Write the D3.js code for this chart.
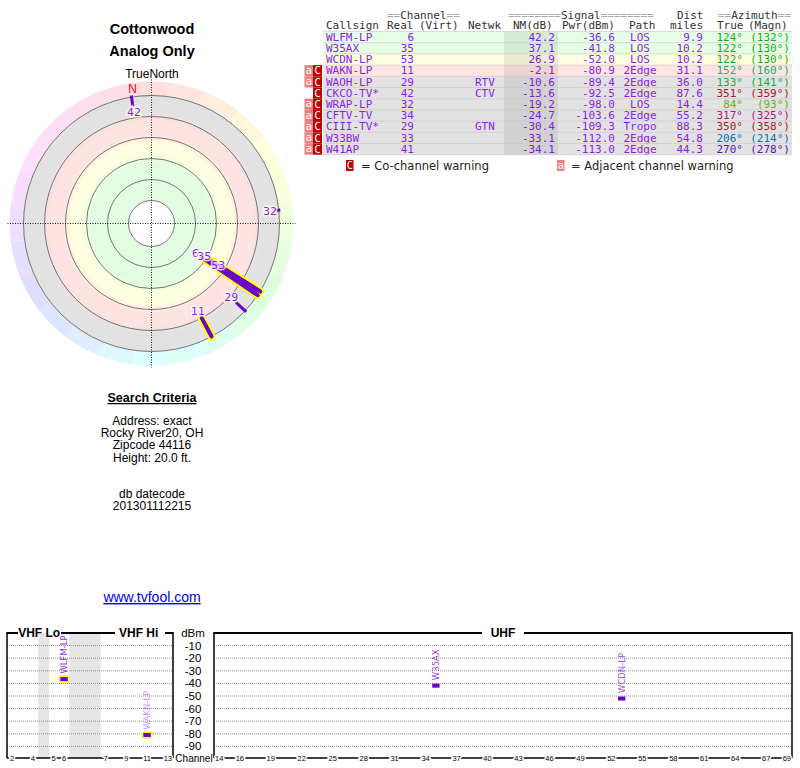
<!DOCTYPE html>
<html>
<head>
<meta charset="utf-8">
<script src="https://cdn.jsdelivr.net/npm/d3@7"></script>
<style>
  body { margin: 0; background: #fff; }
  svg { display: block; }
</style>
</head>
<body>
<script>
// station table, one entry per row
const callsigns = ["WLFM-LP", "W35AX", "WCDN-LP", "WAKN-LP", "WAOH-LP", "CKCO-TV*", "WRAP-LP", "CFTV-TV", "CIII-TV*", "W33BW", "W41AP"];
const realChannels = [6, 35, 53, 11, 29, 42, 32, 34, 29, 33, 41];
const networks = ["", "", "", "", "RTV", "CTV", "", "", "GTN", "", ""];
const nmDb = [42.2, 37.1, 26.9, -2.1, -10.6, -13.6, -19.2, -24.7, -30.4, -33.1, -34.1];
const pwrDbm = [-36.6, -41.8, -52.0, -80.9, -89.4, -92.5, -98.0, -103.6, -109.3, -112.0, -113.0];
const paths = ["LOS", "LOS", "LOS", "2Edge", "2Edge", "2Edge", "LOS", "2Edge", "Tropo", "2Edge", "2Edge"];
const distMiles = [9.9, 10.2, 10.2, 31.1, 36.0, 87.6, 14.4, 55.2, 88.3, 54.8, 44.3];
const azTrue = [124, 122, 122, 152, 133, 351, 84, 317, 350, 206, 270];
const azMagn = [132, 130, 130, 160, 141, 359, 93, 325, 358, 214, 278];
const coChannel = [false, false, false, true, true, true, true, true, true, true, true];
const adjChannel = [false, false, false, true, true, false, true, true, true, true, true];

// NM thresholds for the zones (green, yellow, red, gray below)
const zoneMin = [35, 20, -5];

// spectrum chart
const vhfSlots = ["2", "3", "4", "gap", "5", "6", "fm1", "fm2", "fm3", "7", "8", "9", "10", "11", "12", "13"];
const vhfTickLabels = ["2", "4", "5", "6", "7", "9", "11", "13"];
const uhfChannels = d3.range(14, 70);
const uhfTickLabels = [14, 16, 19, 22, 25, 28, 31, 34, 37, 40, 43, 46, 49, 52, 55, 58, 61, 64, 67, 69];
const dbmTicks = [-10, -20, -30, -40, -50, -60, -70, -80, -90];

const criteria = ["Address: exact", "Rocky River20, OH", "Zipcode 44116", "Height: 20.0 ft."];
const datecode = "201301112215";

const stations = callsigns.map((c, i) => ({
    callsign: c, real: realChannels[i], netwk: networks[i], nm: nmDb[i], pwr: pwrDbm[i],
    path: paths[i], dist: distMiles[i], az: azTrue[i], magn: azMagn[i],
    co: coChannel[i], adj: adjChannel[i]
}));

function zoneOf(nm) {
    const z = zoneMin.findIndex(m => nm >= m);
    return z < 0 ? 3 : z;
}

const sans = "'Liberation Sans', Arial, sans-serif";
const deja = "'DejaVu Sans', Verdana, sans-serif";
const mono = "'DejaVu Sans Mono', monospace";
const purple = "#8a1ee6";
const barPurple = "#6a00cc";

const svg = d3.select("body").append("svg")
    .attr("width", 800)
    .attr("height", 768);

// ---------- titles ----------
svg.append("text").attr("x", 152).attr("y", 34).attr("text-anchor", "middle")
    .attr("font-family", sans).attr("font-size", 14.5).attr("font-weight", "bold").text("Cottonwood");
svg.append("text").attr("x", 152).attr("y", 56).attr("text-anchor", "middle")
    .attr("font-family", sans).attr("font-size", 14.5).attr("font-weight", "bold").text("Analog Only");
svg.append("text").attr("x", 152).attr("y", 78).attr("text-anchor", "middle")
    .attr("font-family", sans).attr("font-size", 12).text("TrueNorth");

// ---------- polar plot ----------
const cx = 151.5, cy = 223.5;
const r = d3.scaleLinear().domain([64, 40, 28, -2, -20]).range([23, 65, 86, 107, 128]).clamp(true);
const rOuter = r(-20);
const polar = svg.append("g");

const defs = svg.append("defs");
const grad = defs.append("radialGradient").attr("id", "zones")
    .attr("gradientUnits", "userSpaceOnUse")
    .attr("cx", cx).attr("cy", cy).attr("r", rOuter);
[[0, "#e2fce2"], [0.47, "#e2fce2"], [0.55, "#fdfee0"], [0.63, "#fdfee0"], [0.70, "#ffe2e2"],
 [0.80, "#ffe2e2"], [0.87, "#e2e2e2"], [1, "#e2e2e2"]].forEach(s => {
    grad.append("stop").attr("offset", s[0]).attr("stop-color", s[1]);
});

// hue wheel round the edge
const hueArc = d3.arc().innerRadius(rOuter).outerRadius(142);
polar.selectAll(".hue")
    .data(d3.range(0, 360, 15))
    .enter()
    .append("path")
    .attr("transform", `translate(${cx},${cy})`)
    .attr("d", d => hueArc({ startAngle: (d - 7.5) * Math.PI / 180, endAngle: (d + 7.5) * Math.PI / 180 }))
    .attr("fill", d => d3.hsl(d, 1, 0.935));

polar.append("circle").attr("cx", cx).attr("cy", cy).attr("r", rOuter).attr("fill", "url(#zones)");
polar.append("circle").attr("cx", cx).attr("cy", cy).attr("r", 23).attr("fill", "#fff");

polar.selectAll(".ring")
    .data(d3.range(6).map(i => 23 + 21 * i))
    .enter()
    .append("circle")
    .attr("cx", cx).attr("cy", cy).attr("r", d => d)
    .attr("fill", "none").attr("stroke", "#555").attr("stroke-width", 0.8);

polar.append("line").attr("x1", cx).attr("x2", cx).attr("y1", cy - 144).attr("y2", cy + 144)
    .attr("stroke", "#000").attr("stroke-dasharray", "1,1.5").attr("stroke-width", 0.9);
polar.append("line").attr("x1", cx - 144).attr("x2", cx + 144).attr("y1", cy).attr("y2", cy)
    .attr("stroke", "#000").attr("stroke-dasharray", "1,1.5").attr("stroke-width", 0.9);

const pt = (az, rad) => [cx + rad * Math.sin(az * Math.PI / 180), cy - rad * Math.cos(az * Math.PI / 180)];

const shown = stations.filter(d => d.nm >= r.domain()[4]);
const strong = d => zoneOf(d.nm) < 3;

// yellow outlines under the strong ones
polar.selectAll(".halo")
    .data(shown.filter(strong))
    .enter()
    .append("line")
    .attr("x1", d => pt(d.az, r(d.nm))[0]).attr("y1", d => pt(d.az, r(d.nm))[1])
    .attr("x2", d => pt(d.az, rOuter)[0]).attr("y2", d => pt(d.az, rOuter)[1])
    .attr("stroke", "#ffff00").attr("stroke-width", 8).attr("stroke-linecap", "round");

polar.selectAll(".bar")
    .data(shown)
    .enter()
    .append("line")
    .attr("x1", d => pt(d.az, r(d.nm))[0]).attr("y1", d => pt(d.az, r(d.nm))[1])
    .attr("x2", d => pt(d.az, rOuter)[0]).attr("y2", d => pt(d.az, rOuter)[1])
    .attr("stroke", barPurple)
    .attr("stroke-width", d => strong(d) ? 4 : 3)
    .attr("stroke-linecap", d => strong(d) ? "round" : "square");

polar.selectAll(".plabel")
    .data(shown)
    .enter()
    .append("text")
    .attr("x", d => pt(d.az, r(d.nm) - 8)[0])
    .attr("y", d => pt(d.az, r(d.nm) - 8)[1])
    .attr("text-anchor", "middle").attr("dominant-baseline", "central")
    .attr("font-family", deja).attr("font-size", 11)
    .attr("fill", purple)
    .attr("stroke", "#fff").attr("stroke-width", 3).attr("stroke-opacity", 0.75)
    .attr("paint-order", "stroke")
    .text(d => d.real);

// magnetic north marker
const decl = azMagn[0] - azTrue[0];
const nPos = pt(360 - decl, 136);
polar.append("text").attr("x", nPos[0]).attr("y", nPos[1])
    .attr("text-anchor", "middle").attr("dominant-baseline", "central")
    .attr("font-family", sans).attr("font-size", 12).attr("fill", "#ff0000").text("N");

// ---------- search criteria ----------
svg.append("text").attr("x", 152).attr("y", 402).attr("text-anchor", "middle")
    .attr("font-family", sans).attr("font-size", 12.5).attr("font-weight", "bold")
    .attr("text-decoration", "underline").text("Search Criteria");
svg.selectAll(".crit")
    .data(criteria)
    .enter()
    .append("text")
    .attr("x", 152).attr("y", (d, i) => 425 + i * 12.2)
    .attr("text-anchor", "middle").attr("font-family", sans).attr("font-size", 12)
    .text(d => d);
svg.append("text").attr("x", 152).attr("y", 498).attr("text-anchor", "middle")
    .attr("font-family", sans).attr("font-size", 12).text("db datecode");
svg.append("text").attr("x", 152).attr("y", 510).attr("text-anchor", "middle")
    .attr("font-family", sans).attr("font-size", 12).text(datecode);
svg.append("text").attr("x", 152).attr("y", 602).attr("text-anchor", "middle")
    .attr("font-family", sans).attr("font-size", 14).attr("fill", "#0000ee")
    .attr("text-decoration", "underline").text("www.tvfool.com");

// ---------- station table ----------
const table = svg.append("g").attr("font-family", mono).attr("font-size", 11);
const rowTop = 31.5, rowH = 11.2, tLeft = 323, tRight = 792;
const rowFill = ["#e6fde6", "#fdfee0", "#ffe4e4", "#e2e2e2"];

const head1 = [
    { x: 387, parts: [["==", "#aaa"], ["Channel", "#333"], ["==", "#aaa"]] },
    { x: 508, parts: [["========", "#aaa"], ["Signal", "#333"], ["========", "#aaa"]] },
    { x: 677, parts: [["Dist", "#333"]] },
    { x: 718, parts: [["==", "#aaa"], ["Azimuth", "#333"], ["==", "#aaa"]] }
];
head1.forEach(h => {
    const t = table.append("text").attr("x", h.x).attr("y", 18.5);
    h.parts.forEach(p => t.append("tspan").attr("fill", p[1]).text(p[0]));
});
[["Callsign", 326], ["Real", 387], ["(Virt)", 419], ["Netwk", 468], ["NM(dB)", 513],
 ["Pwr(dBm)", 562], ["Path", 629], ["miles", 670], ["True", 717], ["(Magn)", 748]].forEach(h => {
    table.append("text").attr("x", h[1]).attr("y", 29.3).attr("fill", "#333").text(h[0]);
});

const rows = table.selectAll(".row")
    .data(stations)
    .enter()
    .append("g")
    .attr("transform", (d, i) => `translate(0,${rowTop + i * rowH})`);

rows.append("rect").attr("x", tLeft).attr("width", tRight - tLeft).attr("height", rowH)
    .attr("fill", d => rowFill[zoneOf(d.nm)]);
table.append("rect").attr("x", 504).attr("y", rowTop).attr("width", 54).attr("height", rowH * stations.length)
    .attr("fill", "#000").attr("opacity", 0.07);
table.selectAll(".sep")
    .data(d3.range(stations.length + 1))
    .enter()
    .append("line")
    .attr("x1", tLeft).attr("x2", tRight)
    .attr("y1", i => rowTop + i * rowH).attr("y2", i => rowTop + i * rowH)
    .attr("stroke", "#c4c4c4").attr("stroke-width", 0.6);

const rowText = (sel, xPos, anchor, fn, color) => sel.append("text")
    .attr("x", xPos).attr("y", 9.2).attr("text-anchor", anchor)
    .attr("fill", color || purple).text(fn);

rowText(rows, 326, "start", d => d.callsign);
rowText(rows, 414, "end", d => d.real);
rowText(rows, 475, "start", d => d.netwk);
rowText(rows, 555, "end", d => d.nm.toFixed(1));
rowText(rows, 615, "end", d => d.pwr.toFixed(1));
rowText(rows, 640, "middle", d => d.path);
rowText(rows, 703, "end", d => d.dist.toFixed(1));
rows.append("text").attr("x", 743).attr("y", 9.2).attr("text-anchor", "end")
    .attr("fill", d => d3.hsl(d.az, 0.8, 0.38)).text(d => d.az + "\u00b0");
rows.append("text").attr("x", 790).attr("y", 9.2).attr("text-anchor", "end")
    .attr("fill", d => d3.hsl(d.az, 0.8, 0.38)).text(d => "(" + d.magn + "\u00b0)");

// warning flags
const adjRows = rows.filter(d => d.adj);
adjRows.append("rect").attr("x", 304.5).attr("width", 8.5).attr("height", rowH).attr("fill", "#f08080");
adjRows.append("text").attr("x", 308.7).attr("y", 8.6).attr("text-anchor", "middle").attr("fill", "#fff").text("a");
const coRows = rows.filter(d => d.co);
coRows.append("rect").attr("x", 313).attr("width", 9).attr("height", rowH).attr("fill", "#c00000");
coRows.append("text").attr("x", 317.5).attr("y", 9.2).attr("text-anchor", "middle").attr("fill", "#fff").text("C");

// legend
const legend = svg.append("g").attr("font-family", deja).attr("font-size", 11.5);
legend.append("rect").attr("x", 346).attr("y", 160).attr("width", 7.5).attr("height", 11).attr("fill", "#c00000");
legend.append("text").attr("x", 349.7).attr("y", 169).attr("text-anchor", "middle").attr("fill", "#fff")
    .attr("font-family", mono).attr("font-size", 10).text("C");
legend.append("text").attr("x", 361).attr("y", 170).attr("fill", "#222").text("= Co-channel warning");
legend.append("rect").attr("x", 557).attr("y", 160).attr("width", 7.5).attr("height", 11).attr("fill", "#f08080");
legend.append("text").attr("x", 560.7).attr("y", 168.5).attr("text-anchor", "middle").attr("fill", "#fff")
    .attr("font-family", mono).attr("font-size", 10).text("a");
legend.append("text").attr("x", 571).attr("y", 170).attr("fill", "#222").text("= Adjacent channel warning");

// ---------- spectrum chart ----------
const spec = svg.append("g");
const y = d3.scaleLinear().domain([0, -100]).range([633, 759]);
const xV = d3.scaleBand().domain(vhfSlots).range([7, 173]);
const xU = d3.scaleBand().domain(uhfChannels).range([214, 792]);
const yTop = y(0), yBot = 758;

// shaded gaps in the VHF band
spec.selectAll(".gap")
    .data(vhfSlots.filter(s => isNaN(+s)))
    .enter()
    .append("rect")
    .attr("x", d => xV(d)).attr("width", xV.bandwidth() + 0.5)
    .attr("y", yTop).attr("height", yBot - yTop)
    .attr("fill", "#e6e6e6");

[[7, 173], [214, 792]].forEach(ext => {
    spec.selectAll(null)
        .data(dbmTicks)
        .enter()
        .append("line")
        .attr("x1", ext[0]).attr("x2", ext[1])
        .attr("y1", d => y(d)).attr("y2", d => y(d))
        .attr("stroke", "#777").attr("stroke-width", 0.8).attr("stroke-dasharray", "1,1");
});

// frames
const frame = spec.append("g").attr("stroke", "#000").attr("fill", "none");
frame.append("line").attr("x1", 7).attr("x2", 7).attr("y1", yTop).attr("y2", yBot).attr("stroke-width", 1.5);
frame.append("line").attr("x1", 173).attr("x2", 173).attr("y1", yTop).attr("y2", yBot).attr("stroke-width", 1.5);
frame.append("line").attr("x1", 214).attr("x2", 214).attr("y1", yTop).attr("y2", yBot).attr("stroke-width", 1.5);
frame.append("line").attr("x1", 792).attr("x2", 792).attr("y1", yTop).attr("y2", yBot).attr("stroke-width", 1.5);
[[6.3, 18], [61, 115], [165, 173.7], [213.3, 482], [524, 792.7]].forEach(s => {
    frame.append("line").attr("x1", s[0]).attr("x2", s[1]).attr("y1", yTop).attr("y2", yTop).attr("stroke-width", 2);
});
[[7, 173], [214, 792]].forEach(s => {
    frame.append("line").attr("x1", s[0]).attr("x2", s[1]).attr("y1", yBot).attr("y2", yBot).attr("stroke-width", 1.5);
});

const headFont = sel => sel.attr("font-family", sans).attr("font-size", 12).attr("font-weight", "bold")
    .attr("text-anchor", "middle").attr("dominant-baseline", "central");
headFont(spec.append("text").attr("x", (xV("2") + xV("6") + xV.bandwidth()) / 2 + 1).attr("y", yTop)).text("VHF Lo");
headFont(spec.append("text").attr("x", (xV("7") + xV("13") + xV.bandwidth()) / 2 + 2).attr("y", yTop)).text("VHF Hi");
headFont(spec.append("text").attr("x", 503).attr("y", yTop)).text("UHF");

// dBm axis
spec.append("text").attr("x", 193).attr("y", yTop).attr("text-anchor", "middle").attr("dominant-baseline", "central")
    .attr("font-family", sans).attr("font-size", 11.5).text("dBm");
spec.selectAll(".dbm")
    .data(dbmTicks)
    .enter()
    .append("text")
    .attr("x", 193).attr("y", d => y(d))
    .attr("text-anchor", "middle").attr("dominant-baseline", "central")
    .attr("font-family", sans).attr("font-size", 11.5)
    .text(d => d);
spec.append("text").attr("x", 194).attr("y", yBot).attr("text-anchor", "middle").attr("dominant-baseline", "central")
    .attr("font-family", sans).attr("font-size", 10).text("Channel");

// channel ticks sit on the axis line
const tickText = (sel, xFn) => sel.enter().append("text")
    .attr("x", xFn).attr("y", yBot)
    .attr("text-anchor", "middle").attr("dominant-baseline", "central")
    .attr("font-family", sans).attr("font-size", 7.5)
    .attr("stroke", "#fff").attr("stroke-width", 3).attr("paint-order", "stroke")
    .text(d => d);
tickText(spec.selectAll(".vt").data(vhfTickLabels), d => xV(d) + xV.bandwidth() / 2);
tickText(spec.selectAll(".ut").data(uhfTickLabels), d => xU(d) + xU.bandwidth() / 2);

// station marks
const xOf = d => d.real < 14 ? xV(String(d.real)) : xU(d.real);
const bw = d => d.real < 14 ? xV.bandwidth() : xU.bandwidth();
const inView = stations.filter(strong);
const fade = d3.scaleLinear().domain([-5, 45]).range([0.45, 1]).clamp(true);

spec.selectAll(".mhalo")
    .data(inView.filter(d => d.real < 14))
    .enter()
    .append("rect")
    .attr("x", d => xOf(d) - 0.5).attr("width", d => bw(d) + 1)
    .attr("y", d => y(d.pwr) - 3.5).attr("height", 7).attr("rx", 3.5)
    .attr("fill", "#ffff00").attr("stroke", "#e0d860").attr("stroke-width", 0.5);
spec.selectAll(".mark")
    .data(inView)
    .enter()
    .append("rect")
    .attr("x", d => xOf(d) + 1.5).attr("width", d => bw(d) - 3)
    .attr("y", d => y(d.pwr) - 2).attr("height", 4)
    .attr("fill", barPurple);
spec.selectAll(".mlabel")
    .data(inView)
    .enter()
    .append("text")
    .attr("transform", d => `translate(${xOf(d) + bw(d) / 2},${y(d.pwr) - 5.5}) rotate(-90)`)
    .attr("dominant-baseline", "central")
    .attr("font-family", deja).attr("font-size", 8.5)
    .attr("fill", purple).attr("fill-opacity", d => fade(d.nm))
    .text(d => d.callsign);
</script>
</body>
</html>
